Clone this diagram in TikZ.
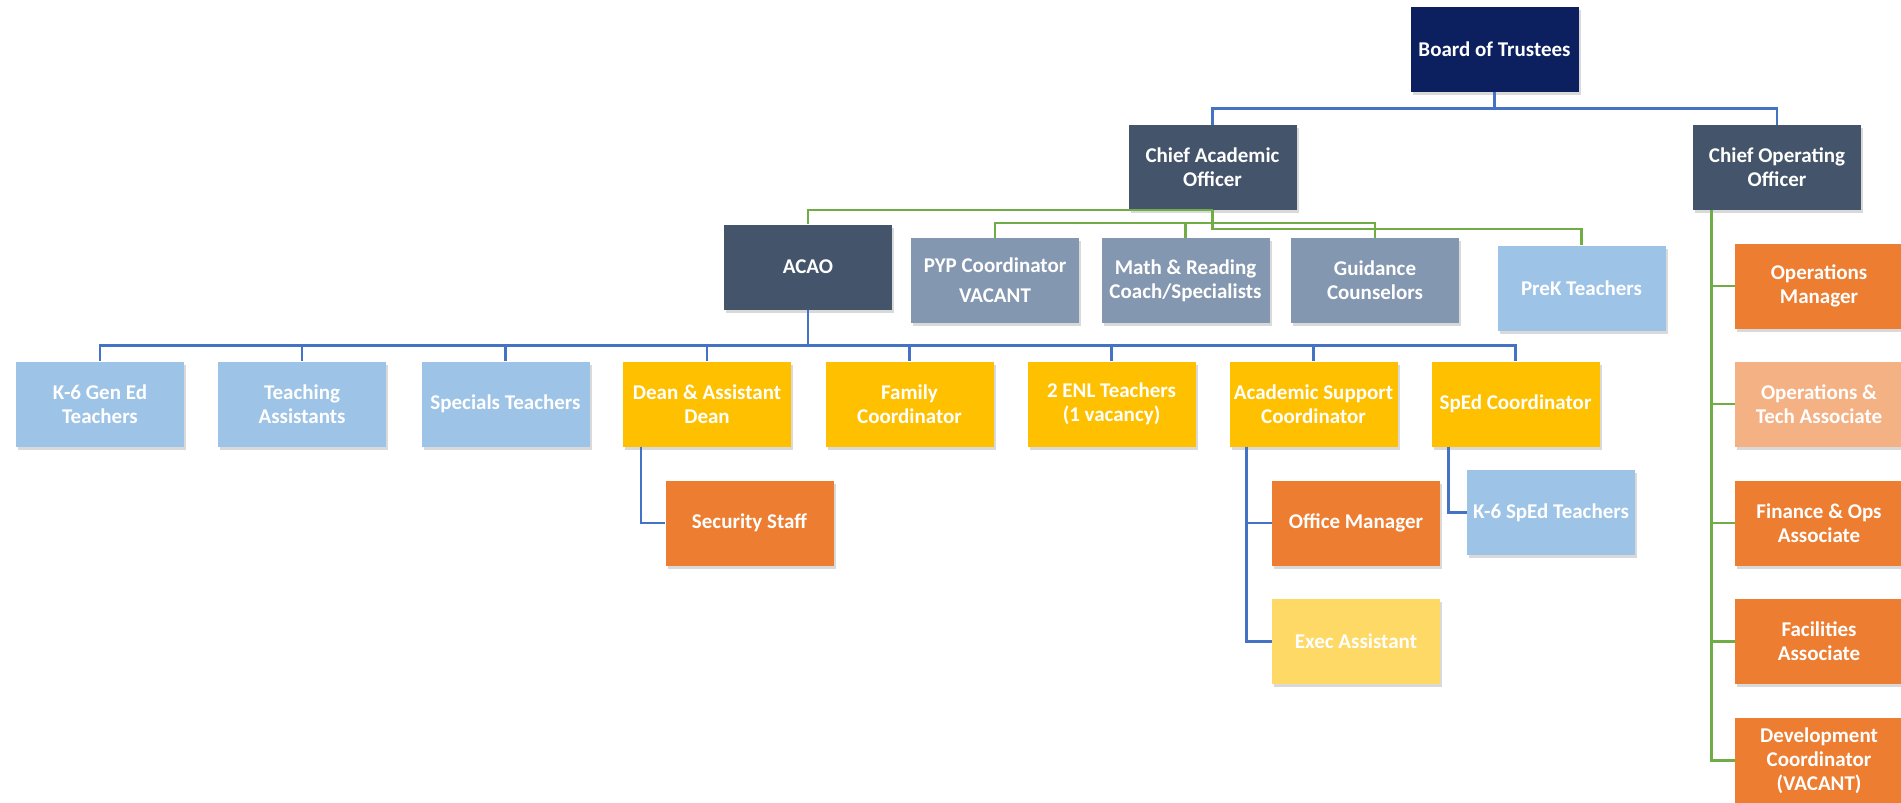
\documentclass[tikz,border=0pt]{standalone}
\usepackage{fontspec}
\setmainfont{Carlito}
\usetikzlibrary{shadows}

\tikzset{
  box/.style={minimum width=168pt, minimum height=85pt, inner sep=2pt, align=center,
    text=white, font=\bfseries\fontsize{21}{24}\selectfont,
    drop shadow={shadow xshift=2pt, shadow yshift=-3pt, opacity=0.3}},
  blueline/.style={draw=lineblue, line width=2.5pt},
  greenline/.style={draw=linegreen, line width=2.5pt}
}

\begin{document}
\begin{tikzpicture}[x=1pt, y=-1pt]

% Colors
\definecolor{navy}{RGB}{12,31,94}        % board
\definecolor{slate}{RGB}{68,84,106}      % chiefs
\definecolor{grayblue}{RGB}{132,151,176} % coordinators
\definecolor{lightblue}{RGB}{157,195,230} % teachers
\definecolor{gold}{RGB}{255,192,0}       % yellow
\definecolor{darkorange}{RGB}{237,125,49} % orange
\definecolor{peach}{RGB}{244,177,131}
\definecolor{lightgold}{RGB}{255,217,102}
\definecolor{lineblue}{RGB}{68,114,196}
\definecolor{linegreen}{RGB}{112,173,71}

\useasboundingbox (0,0) rectangle (1901,803);

% === TOP ===
\node[box, fill=navy] (board) at (1494.5,49) {Board of Trustees};
\node[box, fill=slate] (cao) at (1212.5,167.5) {Chief Academic\\Officer};
\node[box, fill=slate] (coo) at (1777,167.5) {Chief Operating\\Officer};

% === Second row ===
\node[box, fill=slate] (acao) at (808,267) {ACAO};
\node[box, fill=grayblue] (pyp) at (995,280.5) {PYP Coordinator\\[6pt]VACANT};
\node[box, fill=grayblue] (math) at (1185.5,280.5) {Math \& Reading\\Coach/Specialists};
\node[box, fill=grayblue] (guidance) at (1375,280.5) {Guidance\\Counselors};
\node[box, fill=lightblue] (prek) at (1581.5,288) {PreK Teachers};

% === Third row ===
\node[box, fill=lightblue] (gened) at (100,404) {K-6 Gen Ed\\Teachers};
\node[box, fill=lightblue] (assist) at (302,404) {Teaching\\Assistants};
\node[box, fill=lightblue] (specials) at (505.5,404) {Specials Teachers};
\node[box, fill=gold] (dean) at (707,404) {Dean \& Assistant\\Dean};
\node[box, fill=gold] (family) at (909.5,404) {Family\\Coordinator};
\node[box, fill=gold] (enl) at (1111.5,404) {2 ENL Teachers\\(1 vacancy)};
\node[box, fill=gold] (acad) at (1313.5,404) {Academic Support\\Coordinator};
\node[box, fill=gold] (sped) at (1515.5,404) {SpEd Coordinator};

% === Under third row ===
\node[box, fill=darkorange] (security) at (749.5,523) {Security Staff};
\node[box, fill=darkorange] (office) at (1356,523) {Office Manager};
\node[box, fill=lightgold] (exec) at (1356,641.5) {Exec Assistant};
\node[box, fill=lightblue] (kspedteach) at (1551,512.5) {K-6 SpEd Teachers};

% === Operations column ===
\node[box, fill=darkorange] (opsmgr) at (1819,286) {Operations\\Manager};
\node[box, fill=peach] (opstech) at (1819,404) {Operations \&\\Tech Associate};
\node[box, fill=darkorange] (finance) at (1819,523) {Finance \& Ops\\Associate};
\node[box, fill=darkorange] (facilities) at (1819,641.5) {Facilities\\Associate};
\node[box, fill=darkorange] (devcoord) at (1819,760.5) {Development\\Coordinator\\(VACANT)};

% === Lines ===
\draw[blueline] (board.south) -- ++(0,17) -| (cao.north);
\draw[blueline] (board.south) -- ++(0,17) -| (coo.north);

\draw[greenline] (cao.south) -| (acao.north);
\draw[greenline] (cao.south) -- ++(0,13) -| (pyp.north);
\draw[greenline] (cao.south) -- ++(0,13) -| (math.north);
\draw[greenline] (cao.south) -- ++(0,13) -| (guidance.north);
\draw[greenline] (cao.south) -- ++(0,19) -| (prek.north);

\draw[blueline] (acao.south) -- ++(0,36) -| (gened.north);
\draw[blueline] (acao.south) -- ++(0,36) -| (assist.north);
\draw[blueline] (acao.south) -- ++(0,36) -| (specials.north);
\draw[blueline] (acao.south) -- ++(0,36) -| (dean.north);
\draw[blueline] (acao.south) -- ++(0,36) -| (family.north);
\draw[blueline] (acao.south) -- ++(0,36) -| (enl.north);
\draw[blueline] (acao.south) -- ++(0,36) -| (acad.north);
\draw[blueline] (acao.south) -- ++(0,36) -| (sped.north);

\draw[blueline] ([xshift=18pt]dean.south west) |- (security.west);
\draw[blueline] ([xshift=17pt]acad.south west) |- (office.west);
\draw[blueline] ([xshift=17pt]acad.south west) |- (exec.west);
\draw[blueline] ([xshift=17pt]sped.south west) |- (kspedteach.west);

\draw[greenline] ([xshift=18.5pt]coo.south west) |- (opsmgr.west);
\draw[greenline] ([xshift=18.5pt]coo.south west) |- (opstech.west);
\draw[greenline] ([xshift=18.5pt]coo.south west) |- (finance.west);
\draw[greenline] ([xshift=18.5pt]coo.south west) |- (facilities.west);
\draw[greenline] ([xshift=18.5pt]coo.south west) |- (devcoord.west);

\end{tikzpicture}
\end{document}
